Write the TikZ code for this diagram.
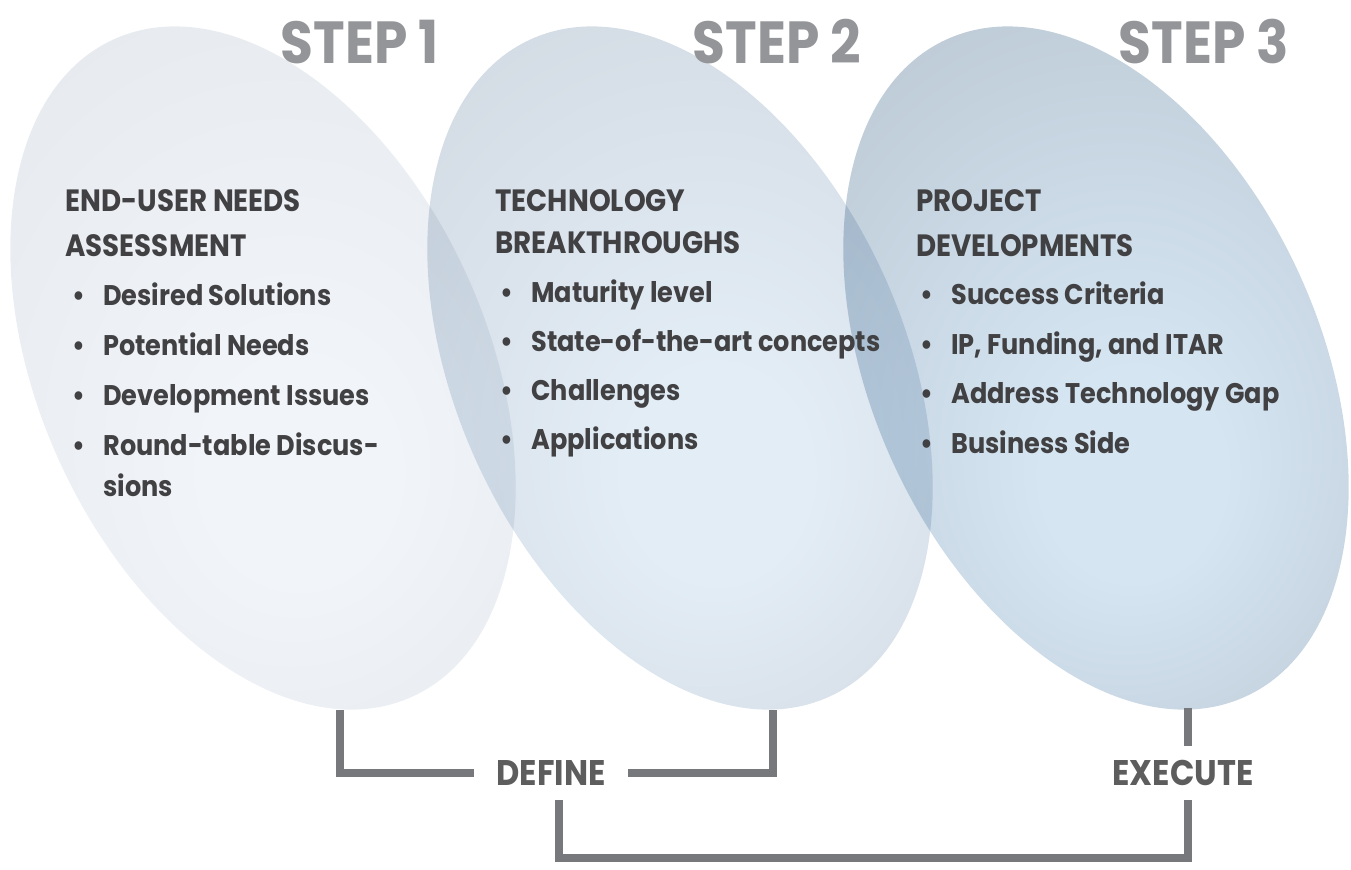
\documentclass[tikz,border=0pt]{standalone}
\usepackage{fontspec}
\setmainfont{Poppins}[FakeStretch=0.9]
\usetikzlibrary{positioning}

\definecolor{ink}{HTML}{414042}
\definecolor{stepgray}{HTML}{939598}
\definecolor{linkgray}{HTML}{77787B}
\definecolor{ovalAin}{HTML}{F1F5F9}
\definecolor{ovalAout}{HTML}{E2E5E9}
\definecolor{ovalBin}{HTML}{E3EDF6}
\definecolor{ovalBout}{HTML}{CCD3DB}
\definecolor{ovalCin}{HTML}{D5E5F2}
\definecolor{ovalCout}{HTML}{B4C0CB}

% one radial fill for all three ovals, recoloured through ovalin/ovalout
\colorlet{ovalin}{white}
\colorlet{ovalout}{white}
\pgfdeclareradialshading[ovalin,ovalout]{oval}{\pgfpoint{4bp}{-10bp}}{%
  color(0bp)=(ovalin); color(8bp)=(ovalin); color(44bp)=(ovalout)}

\newcommand{\bul}{\makebox[15.5pt][l]{\textbullet}}
\newcommand{\bodysize}{\fontsize{14.2pt}{17pt}\selectfont\bfseries}
\newcommand{\headsize}{\fontsize{15.4pt}{18pt}\selectfont\bfseries}

\tikzset{
  ovalcolors/.code 2 args={\colorlet{ovalin}{#1}\colorlet{ovalout}{#2}},
  oval/.style 2 args={ovalcolors={#1}{#2}, shading=oval, blend mode=multiply, rotate=24.4},
  steplabel/.style={font=\fontsize{29.7pt}{32pt}\selectfont\bfseries, text=stepgray, inner sep=0pt},
  item/.style={anchor=west, font=\bodysize, text=ink, inner sep=0pt, text height=10.3pt, text depth=0pt},
  head/.style={item, font=\headsize, text height=11pt},
  phase/.style={font=\fontsize{17.8pt}{20pt}\selectfont\bfseries, text=ink!85, inner xsep=11pt, inner ysep=7.25pt, text height=12.5pt, text depth=0pt},
  link/.style={draw=linkgray, line width=4pt}
}

\begin{document}
\begin{tikzpicture}[x=0.5pt, y=-0.5pt]
  \useasboundingbox (0,0) rectangle (1351,869);

  % the three tilted ovals
  \foreach \cx/\cin/\cout in {263/ovalAin/ovalAout, 680/ovalBin/ovalBout, 1096/ovalCin/ovalCout}
    \shade[shift={(\cx,368)}, oval={\cin}{\cout}] (0,0) ellipse [x radius=224, y radius=361];

  \foreach \i/\x in {1/360, 2/777, 3/1204}
    \node[steplabel] (step\i) at (\x,42) {STEP \i};

  % step 1
  \node[head] (needs) at (65,200) {END-USER NEEDS};
  \node[head] (assess) at (65,245) {ASSESSMENT};
  \foreach \txt [count=\i] in {Desired Solutions, Potential Needs, Development Issues, Round-table Discus-}
    \node[item] (need\i) at (72,245+50*\i) {\bul\txt};
  \node[item] (needtail) at (103,486) {sions};

  % step 2
  \node[head] (tech) at (495,200) {TECHNOLOGY};
  \node[head] (brk) at (495,242) {BREAKTHROUGHS};
  \foreach \txt [count=\i] in {Maturity level, State-of-the-art concepts, Challenges, Applications}
    \node[item] (tech\i) at (500,243+49*\i) {\bul\txt};

  % step 3
  \node[head] (proj) at (916,200) {PROJECT};
  \node[head] (devs) at (916,245) {DEVELOPMENTS};
  \foreach \txt [count=\i] in {Success Criteria, {IP, Funding, and ITAR}, Address Technology Gap, Business Side}
    \node[item] (proj\i) at (920,245+49.5*\i) {\bul\txt};

  % brackets
  \node[phase] (define) at (551,773) {DEFINE};
  \node[phase] (execute) at (1183,773) {EXECUTE};
  \coordinate (foot1) at (340,710);
  \coordinate (foot2) at (773,710);
  \coordinate (foot3) at (1188,708);
  \coordinate (base) at (0,858);
  \draw[link] (foot1) |- (define.west);
  \draw[link] (foot2) |- (define.east);
  \draw[link] (foot3) -- (foot3 |- execute.north);
  \draw[link] ([xshift=4pt]define.south) -- ([xshift=4pt]define.south |- base)
    -| ([xshift=2.5pt]execute.south);
\end{tikzpicture}
\end{document}
